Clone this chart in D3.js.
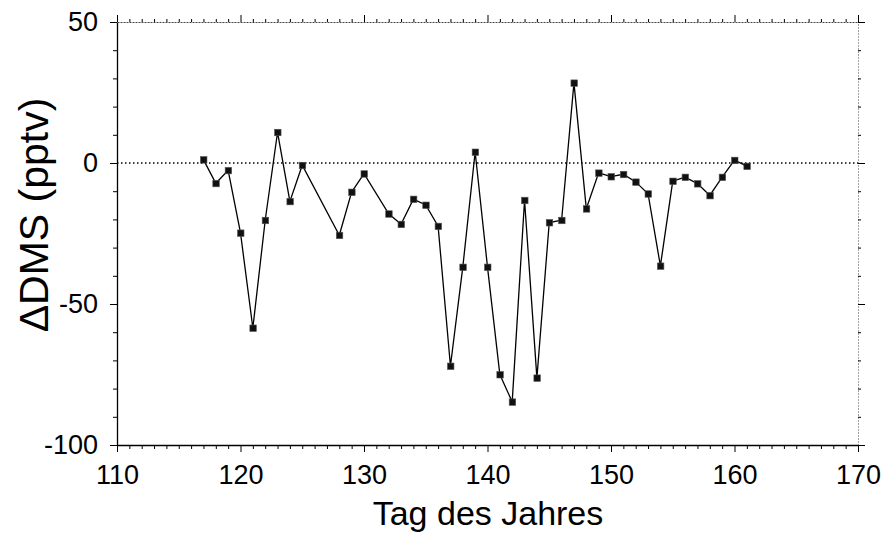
<!DOCTYPE html>
<html>
<head>
<meta charset="utf-8">
<script src="https://cdn.jsdelivr.net/npm/d3@7"></script>
<style>
  html, body { margin: 0; padding: 0; background: #fff; }
  svg { display: block; }
  text { font-family: "Liberation Sans", Arial, Helvetica, sans-serif; fill: #000; }
</style>
</head>
<body>
<svg id="chart" width="882" height="534"></svg>
<script>
// Day of year and the DMS difference (pptv) for each day
const days = [117,118,119,120,121,122,123,124,125,128,129,130,132,133,134,135,136,137,138,139,140,141,142,143,144,145,146,147,148,149,150,151,152,153,154,155,156,157,158,159,160,161];
const deltaDMS = [1.2,-7.2,-2.6,-24.8,-58.5,-20.3,10.9,-13.6,-0.8,-25.6,-10.3,-3.8,-18,-21.7,-12.8,-14.9,-22.4,-72,-36.9,3.9,-36.9,-75,-84.7,-13.2,-76.2,-21.1,-20.3,28.4,-16.2,-3.5,-4.8,-4.0,-6.7,-10.9,-36.5,-6.4,-5.0,-7.3,-11.5,-5.0,1.0,-1.1];

const xTicks = [110,120,130,140,150,160,170];
const yTicks = [50,0,-50,-100];
const xTitle = "Tag des Jahres";
const yTitle = "\u0394DMS (pptv)";

const svg = d3.select("#chart");
const plotL = 117, plotR = 858, plotT = 22, plotB = 445;

const x = d3.scaleLinear().domain([110,170]).range([plotL,plotR]);
const y = d3.scaleLinear().domain([-100,50]).range([plotB,plotT]);

const minorX = d3.range(110,171,1).filter(v => !xTicks.includes(v));
const minorY = d3.range(-100,51,10).filter(v => !yTicks.includes(v));
const fmt = v => String(v);   // plain hyphen for negatives

// bottom axis: labelled major ticks, then minor ticks
const gx = svg.append("g").attr("transform", `translate(0,${plotB})`)
  .call(d3.axisBottom(x).tickValues(xTicks).tickSize(7).tickSizeOuter(0).tickPadding(13).tickFormat(fmt));
gx.append("g").call(d3.axisBottom(x).tickValues(minorX).tickSize(4).tickSizeOuter(0).tickFormat(""))
  .select(".domain").remove();

// left axis
const gy = svg.append("g").attr("transform", `translate(${plotL},0)`)
  .call(d3.axisLeft(y).tickValues(yTicks).tickSize(7).tickSizeOuter(0).tickPadding(12).tickFormat(fmt));
gy.append("g").call(d3.axisLeft(y).tickValues(minorY).tickSize(4).tickSizeOuter(0).tickFormat(""))
  .select(".domain").remove();

// top and right frame with outward ticks, drawn lighter
const gt = svg.append("g").attr("transform", `translate(0,${plotT})`)
  .call(d3.axisTop(x).tickValues(xTicks).tickSize(7).tickSizeOuter(0).tickFormat(""));
gt.append("g").call(d3.axisTop(x).tickValues(minorX).tickSize(3).tickSizeOuter(0).tickFormat(""))
  .select(".domain").remove();
gt.select(".domain").attr("stroke", "#444").attr("stroke-dasharray", "2,1");

const gr = svg.append("g").attr("transform", `translate(${plotR},0)`)
  .call(d3.axisRight(y).tickValues(yTicks).tickSize(7).tickSizeOuter(0).tickFormat(""));
gr.append("g").call(d3.axisRight(y).tickValues(minorY).tickSize(3).tickSizeOuter(0).tickFormat(""))
  .select(".domain").remove();
gr.select(".domain").attr("stroke", "#444").attr("stroke-dasharray", "1,2");

svg.selectAll(".tick line").attr("stroke", "#000").attr("stroke-width", 1);
gx.select(".domain").attr("stroke-width", 1.3);
gy.select(".domain").attr("stroke-width", 1.3);
svg.selectAll(".tick text")
  .style("font-size", "27px")
  .style("font-family", "'Liberation Sans Narrow', 'Arial Narrow', 'Liberation Sans', sans-serif");

// zero reference line
svg.append("line")
  .attr("x1", plotL).attr("x2", plotR)
  .attr("y1", y(0)).attr("y2", y(0))
  .attr("stroke", "#000").attr("stroke-width", 1.4).attr("stroke-dasharray", "1.5,2.5");

// data line and square markers
const pts = days.map((d,i) => [d, deltaDMS[i]]);
svg.append("path")
  .datum(pts)
  .attr("fill", "none").attr("stroke", "#000").attr("stroke-width", 1.3)
  .attr("d", d3.line().x(d => x(d[0])).y(d => y(d[1])));

svg.append("g").selectAll("rect").data(pts).join("rect")
  .attr("x", d => x(d[0]) - 3).attr("y", d => y(d[1]) - 3)
  .attr("width", 6.5).attr("height", 6.5)
  .attr("fill", "#111").attr("stroke", "#555").attr("stroke-width", 0.6);

// axis titles
svg.append("text")
  .attr("x", 488).attr("y", 525)
  .attr("text-anchor", "middle").style("font-size", "34px")
  .text(xTitle);

svg.append("text")
  .attr("transform", `translate(48,215) rotate(-90)`)
  .attr("text-anchor", "middle").style("font-size", "41px")
  .text(yTitle);
</script>
</body>
</html>
